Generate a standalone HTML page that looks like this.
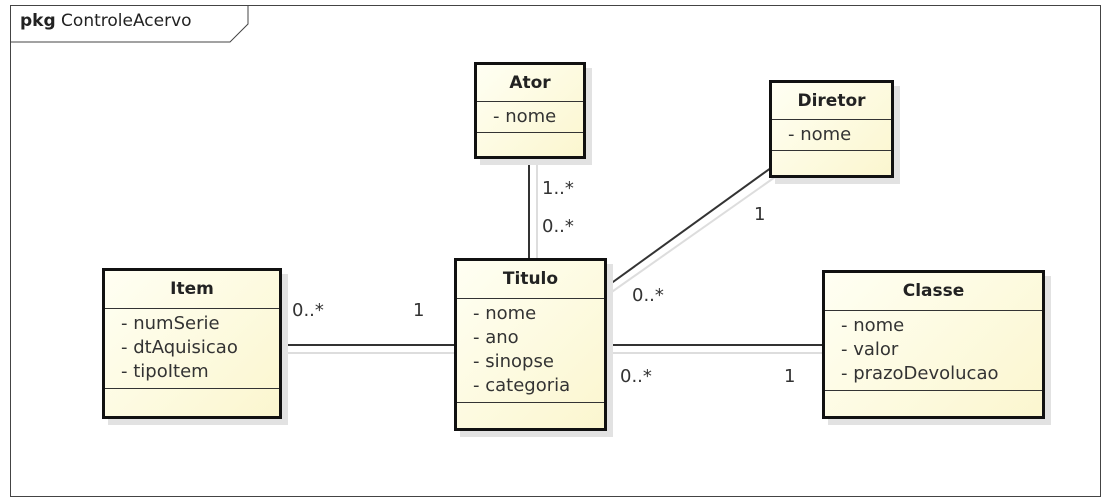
<!DOCTYPE html>
<html><head><meta charset="utf-8"><style>
body{margin:0;width:1111px;height:502px;background:#fff;position:relative;overflow:hidden;font-family:"DejaVu Sans","Liberation Sans",sans-serif;}
.frame{position:absolute;left:10px;top:5px;width:1089px;height:490px;border:1px solid #444;}
.c{position:absolute;border:3px solid #111;background:linear-gradient(135deg,#fffff3,#fbf6cf);box-shadow:6px 6px 0 #e2e2e2;box-sizing:border-box;font-size:18px;color:#333;}
.h{font-weight:bold;text-align:center;border-bottom:1.5px solid #333;color:#222;font-size:17px}
.a{border-bottom:1.5px solid #333;padding:3px 0 4px 16px;line-height:23px}
.l{position:absolute;font-size:18px;color:#333}
</style></head><body>
<div class="frame"></div>
<svg width="1111" height="502" style="position:absolute;left:0;top:0">
<polyline points="10,42 230,42 248,24 248,5" fill="none" stroke="#444" stroke-width="1"/>
<g stroke="#333" stroke-width="2">
<line x1="529" y1="158" x2="529" y2="258"/>
<line x1="606" y1="287" x2="775" y2="165"/>
<line x1="281" y1="345" x2="454" y2="345"/>
<line x1="606" y1="345" x2="822" y2="345"/>
</g>
<g stroke="#ddd" stroke-width="2">
<line x1="537" y1="160" x2="537" y2="258"/>
<line x1="606" y1="296" x2="778" y2="175"/>
<line x1="283" y1="353" x2="454" y2="353"/>
<line x1="608" y1="353" x2="822" y2="353"/>
</g>
</svg>
<div class="l" style="left:20px;top:11px;font-size:17px;color:#222"><b>pkg</b> ControleAcervo</div>
<div class="c" style="left:474px;top:62px;width:112px;height:97px"><div class="h" style="height:36px;line-height:36px">Ator</div><div class="a">- nome</div></div>
<div class="c" style="left:769px;top:80px;width:125px;height:98px"><div class="h" style="height:36px;line-height:36px">Diretor</div><div class="a">- nome</div></div>
<div class="c" style="left:454px;top:258px;width:153px;height:173px"><div class="h" style="height:37px;line-height:37px">Titulo</div><div class="a" style="line-height:24px">- nome<br>- ano<br>- sinopse<br>- categoria</div></div>
<div class="c" style="left:102px;top:268px;width:180px;height:151px"><div class="h" style="height:37px;line-height:37px">Item</div><div class="a" style="line-height:24px">- numSerie<br>- dtAquisicao<br>- tipoItem</div></div>
<div class="c" style="left:822px;top:270px;width:223px;height:149px"><div class="h" style="height:37px;line-height:37px">Classe</div><div class="a" style="line-height:24px">- nome<br>- valor<br>- prazoDevolucao</div></div>
<div class="l" style="left:542px;top:178px">1..*</div>
<div class="l" style="left:542px;top:216px">0..*</div>
<div class="l" style="left:754px;top:204px">1</div>
<div class="l" style="left:632px;top:285px">0..*</div>
<div class="l" style="left:292px;top:300px">0..*</div>
<div class="l" style="left:413px;top:300px">1</div>
<div class="l" style="left:620px;top:366px">0..*</div>
<div class="l" style="left:784px;top:366px">1</div>
</body></html>
